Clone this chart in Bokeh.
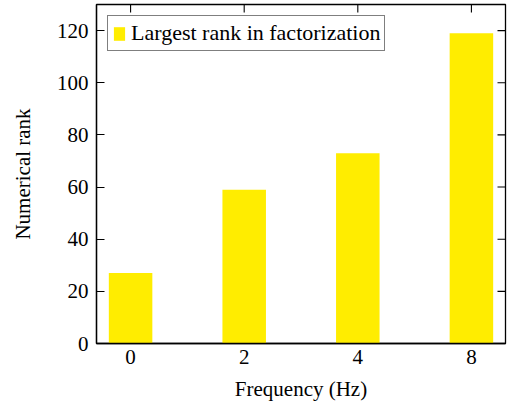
from bokeh.plotting import figure
from bokeh.models import Range1d, FixedTicker, Legend, LegendItem, ColumnDataSource
from bokeh.embed import file_html
from bokeh.resources import INLINE

# ---- data ----
categories = ["0", "2", "4", "8"]          # frequency (Hz)
ranks = [27, 59, 73, 119]                  # largest rank in factorization
y_ticks = [0, 20, 40, 60, 80, 100, 120]
series_label = "Largest rank in factorization"

FONT = "Liberation Serif"
FS = "21px"
YELLOW = "#FFED00"

xpos = list(range(len(categories)))
x_start, x_end = -0.3, len(categories) - 1 + 0.3
y_start, y_end = 0, 130
src = ColumnDataSource(dict(x=xpos, top=ranks))

p = figure(width=508, height=405, output_backend="svg", toolbar_location=None,
           x_range=Range1d(x_start, x_end), y_range=Range1d(y_start, y_end),
           min_border_left=96, min_border_right=3,
           min_border_top=4, min_border_bottom=62)
p.xgrid.visible = False
p.ygrid.visible = False
p.outline_line_color = "black"
p.outline_line_width = 1.3
p.background_fill_color = "white"
p.border_fill_color = "white"

bars = p.vbar(x="x", top="top", bottom=0, width=0.383, source=src,
              fill_color=YELLOW, line_color=None)

# inward ticks mirrored on the right and top edges
p.ray(x=[x_end] * len(y_ticks), y=y_ticks, length=8, length_units="screen",
      angle=180, angle_units="deg", line_color="black", line_width=1.1)
p.ray(x=xpos, y=[y_end] * len(xpos), length=8, length_units="screen",
      angle=-90, angle_units="deg", line_color="black", line_width=1.1)

def style(ax):
    ax.major_tick_out = 0
    ax.minor_tick_in = 0
    ax.minor_tick_out = 0
    ax.axis_line_color = "black"
    ax.axis_line_width = 1.3
    ax.major_tick_line_color = "black"
    ax.major_tick_line_width = 1.1
    ax.major_label_text_font = FONT
    ax.major_label_text_font_size = FS
    ax.major_label_text_color = "black"
    ax.axis_label_text_font = FONT
    ax.axis_label_text_font_size = FS
    ax.axis_label_text_font_style = "normal"
    ax.axis_label_text_color = "black"

# bottom axis (its inward ticks are hidden behind the bars in the reference)
xa = p.xaxis[0]
xa.ticker = FixedTicker(ticks=xpos)
xa.major_label_overrides = {i: c for i, c in zip(xpos, categories)}
style(xa)
xa.major_tick_in = 0
xa.major_label_standoff = 6
xa.axis_label = "Frequency (Hz)"
xa.axis_label_standoff = 10

# left axis
ya = p.yaxis[0]
ya.ticker = FixedTicker(ticks=y_ticks)
style(ya)
ya.major_tick_in = 8
ya.major_label_standoff = 8
ya.axis_label = "Numerical rank"
ya.axis_label_standoff = 19

legend = Legend(items=[LegendItem(label=series_label, renderers=[bars])],
                location="top_left", margin=11, padding=4, spacing=0,
                glyph_width=14, glyph_height=17, label_standoff=5,
                label_text_font=FONT, label_text_font_size="22px",
                label_text_color="black",
                border_line_color="black", border_line_width=1.3,
                background_fill_color="white", background_fill_alpha=1.0)
p.add_layout(legend)

open("out.html", "w").write(file_html(p, INLINE))
